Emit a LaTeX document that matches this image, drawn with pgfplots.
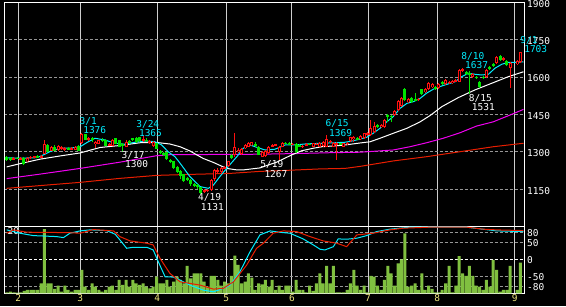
\documentclass[border=0pt]{standalone}
\usepackage{pgfplots}
\pgfplotsset{compat=1.18}
\usepackage{pgfplotstable}
\usepackage{fontspec}
\newfontfamily\chartfont{DejaVu Sans Mono}
\newcommand\cf{\chartfont\fontsize{9.5}{10}\selectfont}
\definecolor{cUp}{RGB}{255,16,16}
\definecolor{cDn}{RGB}{0,228,0}
\definecolor{cVol}{RGB}{128,192,64}
\definecolor{cCy}{RGB}{0,238,255}
\definecolor{cMg}{RGB}{240,0,240}
\definecolor{cMaR}{RGB}{232,30,0}
\definecolor{cYel}{RGB}{240,232,128}
\definecolor{cGrid}{RGB}{150,150,150}
\definecolor{cVgrid}{RGB}{205,205,205}

% rising candles: day index, open, high, low, close
\pgfplotstableread{
i o h l c
2 1270 1279 1268 1276
4 1270 1280 1268 1277
6 1262 1279 1258 1277
7 1276 1284 1272 1281
8 1278 1285 1275 1282
10 1278 1288 1276 1285
11 1293 1348 1290 1331
13 1305 1322 1302 1318
15 1307 1328 1304 1325
16 1312 1322 1308 1318
17 1307 1318 1304 1315
19 1310 1320 1307 1316
20 1309 1322 1306 1319
22 1335 1376 1333 1372
24 1350 1360 1346 1357
26 1330 1345 1315 1342
27 1332 1350 1330 1348
30 1326 1336 1322 1332
31 1325 1352 1323 1348
35 1320 1348 1318 1342
40 1345 1365 1342 1352
42 1338 1348 1330 1345
43 1322 1345 1318 1342
58 1140 1150 1135 1146
59 1144 1152 1138 1149
60 1146 1190 1142 1188
61 1190 1233 1185 1228
62 1222 1235 1215 1229
63 1218 1240 1212 1236
64 1234 1245 1230 1240
65 1242 1265 1238 1262
67 1288 1375 1280 1321
68 1298 1315 1295 1308
69 1292 1315 1288 1312
70 1314 1332 1310 1328
71 1321 1340 1318 1336
72 1326 1342 1322 1340
75 1281 1305 1278 1301
76 1284 1308 1280 1305
77 1295 1324 1292 1321
78 1322 1330 1318 1328
79 1326 1334 1322 1331
80 1301 1324 1267 1321
81 1321 1340 1318 1337
84 1330 1336 1326 1333
87 1320 1328 1316 1325
88 1326 1336 1324 1332
90 1321 1338 1318 1335
91 1330 1336 1326 1333
92 1321 1340 1318 1337
93 1323 1344 1320 1341
94 1321 1369 1318 1351
95 1340 1350 1335 1346
96 1321 1340 1318 1337
97 1328 1340 1268 1336
99 1321 1338 1318 1335
100 1332 1342 1328 1338
101 1345 1362 1342 1359
102 1351 1364 1341 1362
104 1351 1367 1348 1364
105 1355 1378 1352 1375
106 1370 1382 1366 1378
107 1368 1428 1365 1395
108 1381 1422 1378 1404
110 1399 1412 1396 1408
111 1401 1432 1398 1428
114 1448 1470 1445 1466
115 1468 1510 1465 1506
116 1485 1520 1482 1515
118 1499 1515 1495 1511
121 1508 1518 1504 1514
123 1542 1556 1538 1551
124 1551 1580 1548 1576
125 1561 1575 1558 1572
127 1556 1576 1552 1572
129 1572 1592 1568 1589
130 1576 1586 1572 1582
131 1576 1588 1572 1585
132 1583 1594 1580 1590
133 1582 1632 1580 1630
134 1626 1637 1620 1632
137 1602 1616 1598 1612
141 1602 1632 1598 1629
144 1656 1686 1652 1682
146 1669 1680 1664 1676
148 1636 1660 1556 1656
150 1653 1668 1648 1665
151 1661 1703 1657 1700
}\upC

% falling candles
\pgfplotstableread{
i o h l c
0 1280 1284 1265 1268
1 1277 1280 1263 1267
3 1276 1280 1270 1272
5 1277 1281 1248 1251
9 1282 1286 1276 1278
12 1328 1332 1298 1301
14 1321 1326 1302 1305
18 1315 1318 1306 1309
21 1325 1328 1302 1305
23 1372 1374 1348 1350
25 1356 1360 1340 1348
28 1350 1355 1340 1343
29 1348 1352 1322 1325
32 1355 1358 1330 1332
33 1348 1350 1318 1320
34 1330 1335 1300 1324
36 1345 1350 1332 1335
37 1355 1358 1345 1348
38 1357 1360 1338 1340
39 1360 1362 1340 1344
41 1350 1355 1340 1343
44 1335 1338 1310 1312
45 1305 1308 1292 1295
46 1297 1300 1285 1288
47 1298 1300 1268 1270
48 1268 1272 1255 1258
49 1262 1265 1230 1234
50 1240 1244 1215 1218
51 1225 1228 1190 1205
52 1210 1212 1180 1185
53 1195 1198 1182 1188
54 1188 1190 1165 1170
55 1172 1175 1160 1165
56 1168 1170 1150 1158
57 1158 1160 1131 1136
66 1288 1292 1270 1275
73 1332 1340 1320 1324
74 1321 1325 1286 1288
82 1338 1342 1330 1333
83 1336 1340 1326 1330
85 1332 1335 1296 1300
86 1327 1330 1318 1321
89 1332 1335 1326 1329
98 1334 1338 1328 1331
103 1356 1360 1348 1351
109 1408 1412 1396 1399
112 1448 1452 1421 1441
113 1446 1450 1421 1440
117 1551 1556 1505 1509
119 1515 1520 1498 1502
120 1511 1535 1503 1506
122 1551 1554 1530 1533
126 1562 1566 1550 1553
128 1582 1585 1568 1572
135 1622 1625 1608 1612
136 1618 1625 1531 1609
138 1602 1606 1592 1596
139 1580 1584 1558 1562
140 1602 1606 1592 1596
142 1642 1646 1630 1633
143 1652 1656 1642 1645
145 1685 1690 1665 1669
147 1667 1670 1645 1649
}\dnC

% volume
\pgfplotstableread{
i v
0 3
1 5
2 3
3 2
4 3
5 7
6 10
7 10
8 10
9 10
10 30
11 193
12 30
13 30
14 13
15 23
16 5
17 23
18 10
19 5
20 10
21 10
22 70
23 20
24 10
25 30
26 20
27 10
28 5
29 10
30 20
31 23
32 10
33 40
34 25
35 40
36 20
37 40
38 30
39 25
40 30
41 20
42 15
43 20
44 50
45 30
46 30
47 40
48 20
49 35
50 50
51 40
52 30
53 82
54 45
55 60
56 60
57 60
58 35
59 20
60 52
61 52
62 40
63 23
64 35
65 30
66 52
67 113
68 85
69 30
70 35
71 60
72 47
73 10
74 30
75 27
76 40
77 20
78 40
79 10
80 23
81 10
82 23
83 23
84 5
85 40
86 10
87 10
88 3
89 23
90 7
91 30
92 60
93 30
94 82
95 30
96 82
97 3
98 3
99 3
100 10
101 30
102 70
103 23
104 10
105 23
106 3
107 52
108 50
109 23
110 10
111 40
112 82
113 60
114 23
115 90
116 102
117 180
118 20
119 23
120 30
121 10
122 60
123 10
124 23
125 13
126 3
127 3
128 10
129 30
130 82
131 3
132 23
133 112
134 60
135 52
136 82
137 52
138 23
139 20
140 10
141 40
142 20
143 100
144 70
145 5
146 10
147 10
148 82
150 10
151 92
}\vol

% short moving average (cyan)
\pgfplotstableread{
i p
-0.6 1277
3.8 1275
8.7 1277
10.2 1285
12.6 1301
15.6 1315
18.5 1315
21.5 1321
23.9 1341
25.9 1355
28.8 1348
31.8 1335
34.7 1331
37.6 1339
40.6 1344
43.5 1341
45.5 1328
47.4 1301
49.4 1281
50.9 1255
53.8 1201
56.8 1161
59.2 1154
60.7 1167
62.6 1201
64.6 1234
67.6 1281
69.5 1315
71.5 1328
73.4 1319
75.9 1308
78.8 1311
81.8 1328
84.7 1328
87.6 1332
92.6 1335
96.5 1337
99.4 1339
101.9 1345
105.8 1359
107.7 1375
109.7 1395
111.7 1421
113.6 1442
115.6 1475
117.6 1495
119.5 1502
121.5 1515
123.4 1536
125.9 1556
128.8 1569
131.8 1582
133.7 1602
135.7 1616
137.6 1612
139.6 1609
141.6 1612
143.5 1636
145.5 1652
147.4 1660
149.4 1660
151.9 1662
}\maS

% medium moving average (white)
\pgfplotstableread{
i p
-0.1 1240
3.8 1253
9.7 1271
15.6 1284
21.5 1296
24.4 1307
27.4 1318
33.2 1326
39.1 1337
44.1 1338
47.9 1332
50.9 1321
53.8 1304
57.7 1274
60.7 1258
64.6 1234
67.6 1228
69.5 1228
74.4 1236
76.9 1248
79.3 1259
83.7 1288
86.7 1305
90.1 1315
92.6 1321
97.0 1325
99.4 1328
103.8 1336
106.8 1341
109.7 1355
113.6 1375
117.6 1395
121.5 1421
124.4 1446
127.9 1482
132.7 1518
137.6 1549
142.6 1576
147.4 1602
151.9 1622
}\maM

% long moving average (magenta)
\pgfplotstableread{
i p
-0.1 1193
9.7 1211
21.5 1234
33.2 1259
44.0 1285
47.9 1289
74.4 1291
86.2 1294
95.0 1297
103.8 1299
113.6 1308
118.5 1321
123.4 1337
128.3 1355
133.2 1377
138.1 1404
143.0 1421
147.9 1448
151.9 1471
}\maL

% very long moving average (red)
\pgfplotstableread{
i p
-0.1 1154
9.7 1165
21.5 1178
33.2 1194
44.0 1206
53.8 1210
65.6 1214
74.4 1222
80.3 1225
92.1 1232
99.4 1234
103.8 1242
113.6 1264
123.4 1281
133.2 1301
143.0 1321
151.9 1335
}\maX

% oscillator, cyan line
\pgfplotstableread{
i v
-0.1 88.3
3.8 78.4
7.7 71.3
14.6 68.3
16.6 65.3
18.5 78.4
21.5 85.3
24.4 88.3
29.3 86.2
31.8 75.4
33.2 58.4
35.2 33.5
37.1 36.5
41.1 36.5
43.0 28.4
44.5 -6.6
46.5 -51.5
48.9 -52.4
50.9 -61.4
53.8 -76.3
57.7 -91.3
60.7 -96.4
63.6 -86.2
65.6 -76.3
68.5 -36.5
71.5 23.4
74.4 73.4
77.4 85.3
80.3 81
83.2 78.4
87.1 61.4
90.1 43.4
92.1 30.5
93.5 28.4
96.0 38.3
97.4 61.4
99.9 60.5
102.9 63.5
105.8 71.3
108.7 83.2
112.6 90.4
118.5 96.4
124.4 96.4
135.2 96.4
139.1 91.3
144.0 85.3
151.9 83.2
}\oscA

% oscillator, red line
\pgfplotstableread{
i v
-0.1 78.4
1.9 88.3
5.8 81.4
17.6 80.2
21.5 78.4
25.4 89.2
31.3 85.3
33.2 68.3
36.2 55.4
41.1 48.5
43.0 43.4
45.0 3.6
47.9 -41.3
50.9 -66.5
56.8 -76.3
60.7 -88.3
63.6 -86.2
66.6 -66.5
70.5 -16.5
73.4 33.5
75.4 48.5
78.3 78.4
81.3 85.3
85.2 83.2
89.1 68.3
93.0 55.4
97.0 48.5
99.9 38.3
102.9 73.4
107.7 78.4
112.6 88.3
116.6 93.4
124.4 96.4
135.2 96.4
140.1 90.4
144.0 88.3
151.9 86.2
}\oscB

\pgfplotsset{
  monthticks/.style={xtick={3.32,21.56,44.21,64.5,83.82,106.18,126.56,149.32}},
  panel/.style={scale only axis, width=520pt,
    xmin=-0.735, xmax=152.2,
    /pgf/number format/assume math mode=true},
  % a vertical bar from a table row: y = centre, error = half length
  candle/.style 2 args={only marks, mark=*, mark size=0pt,
    mark options={draw=none, fill=none, draw opacity=0, fill opacity=0},
    forget plot, line width=#1, color=#2,
    error bars/.cd, y dir=both, y explicit, error mark=none,
    error bar style={line width=#1, color=#2, solid, line cap=butt,
      draw opacity=1, fill opacity=1}},
}

\begin{document}
\begin{tikzpicture}
\useasboundingbox (0pt,0pt) rectangle (566pt,306pt);
\fill[black] (0pt,0pt) rectangle (566pt,306pt);

% ---------- price panel ----------
\begin{axis}[panel, name=main, at={(4.5pt,79.3pt)}, anchor=south west, height=224.2pt,
  ymin=1000, ymax=1900,
  axis line style={draw=white, line width=1pt},
  monthticks, xticklabels={},
  ytick={1150,1300,1450,1600,1750}, yticklabels={1150,1300,1450,1600,1750},
  extra y ticks={1900}, extra y tick labels={1900},
  extra y tick style={major grid style={draw=none}},
  yticklabel pos=right,
  xmajorgrids, ymajorgrids,
  major x grid style={cVgrid, line width=1pt, solid},
  major y grid style={cGrid, line width=1pt, dash pattern=on 3pt off 2pt},
  tick style={draw=none},
  yticklabel style={font=\cf, text=white, anchor=west, inner sep=0pt, xshift=2.5pt, yshift=-1.3pt},
  clip mode=individual,
]
\addplot[cMaR, line width=1pt] table[x=i,y=p]{\maX};
\addplot[cMg, line width=1pt] table[x=i,y=p]{\maL};
\addplot[white, line width=1pt] table[x=i,y=p]{\maM};
\addplot[cCy, line width=1pt] table[x=i,y=p]{\maS};
% wicks
\addplot[candle={1pt}{cDn}]
  table[x=i, y expr={(\thisrow{h}+\thisrow{l})/2}, y error expr={(\thisrow{h}-\thisrow{l})/2}]{\dnC};
\addplot[candle={1pt}{cUp}]
  table[x=i, y expr={(\thisrow{h}+\thisrow{l})/2}, y error expr={(\thisrow{h}-\thisrow{l})/2}]{\upC};
% bodies
\addplot[candle={3pt}{cDn}]
  table[x=i, y expr={(\thisrow{o}+\thisrow{c})/2}, y error expr={max((\thisrow{o}-\thisrow{c})/2,2)}]{\dnC};
\addplot[candle={3pt}{cUp}]
  table[x=i, y expr={(\thisrow{o}+\thisrow{c})/2}, y error expr={max((\thisrow{c}-\thisrow{o})/2,2)}]{\upC};
\addplot[candle={1pt}{black}]
  table[x=i, y expr={(\thisrow{o}+\thisrow{c})/2}, y error expr={max((\thisrow{c}-\thisrow{o})/2-4,0)}]{\upC};
% high / low annotations
\node[font=\cf, text=cCy] at (axis cs:23.9,1424) {3/1};
\node[font=\cf, text=cCy] at (axis cs:25.8,1387) {1376};
\node[font=\cf, text=cCy] at (axis cs:41.4,1409) {3/24};
\node[font=\cf, text=cCy] at (axis cs:42.2,1375) {1365};
\node[font=\cf, text=white] at (axis cs:37.1,1286) {3/17};
\node[font=\cf, text=white] at (axis cs:38.1,1251) {1300};
\node[font=\cf, text=white] at (axis cs:59.6,1117) {4/19};
\node[font=\cf, text=white] at (axis cs:60.4,1080) {1131};
\node[font=\cf, text=white] at (axis cs:77.9,1249) {5/19};
\node[font=\cf, text=white] at (axis cs:79.1,1212) {1267};
\node[font=\cf, text=cCy] at (axis cs:97.1,1413) {6/15};
\node[font=\cf, text=cCy] at (axis cs:98.1,1376) {1369};
\node[font=\cf, text=cCy] at (axis cs:137.0,1684) {8/10};
\node[font=\cf, text=cCy] at (axis cs:138.1,1647) {1637};
\node[font=\cf, text=white] at (axis cs:139.2,1514) {8/15};
\node[font=\cf, text=white] at (axis cs:140.1,1479) {1531};
\node[font=\cf, text=cCy] at (axis cs:153.5,1748) {9/1};
\node[font=\cf, text=cCy] at (axis cs:155.5,1712) {1703};
\end{axis}

% ---------- lower panel: frame and grid ----------
\begin{axis}[panel, name=low, at={(main.south west)}, anchor=north west, height=66.6pt,
  ymin=-100.8, ymax=97.8,
  axis line style={draw=white, line width=1pt},
  monthticks, xticklabels={2,3,4,5,6,7,8,9},
  ytick={-80,-50,0,50,80}, yticklabels={-80,-50,0,50,80},
  yticklabel pos=right,
  xmajorgrids, ymajorgrids,
  major x grid style={cVgrid, line width=1pt, solid},
  major y grid style={cGrid, line width=1pt, dash pattern=on 3pt off 2pt},
  tick style={draw=none},
  xticklabel style={font=\cf, text=cYel, anchor=north, inner sep=0pt, yshift=-1.2pt},
  yticklabel style={font=\cf, text=white, anchor=west, inner sep=0pt, xshift=2.5pt, yshift=-0.8pt},
  clip mode=individual,
]
\addplot[white, line width=1pt, dash pattern=on 3pt off 2pt] coordinates {(-0.735,0) (152.2,0)};
\node[font=\cf, text=white] at (axis cs:1.9,84) {20};
\end{axis}

% ---------- volume ----------
\begin{axis}[panel, at={(main.south west)}, anchor=north west, height=66.6pt, hide axis,
  ymin=0, ymax=200]
\addplot[ybar, bar width=3pt, bar shift=0pt, fill=cVol, draw=none] table[x=i,y=v]{\vol};
\end{axis}

% ---------- oscillator ----------
\begin{axis}[panel, at={(main.south west)}, anchor=north west, height=66.6pt, hide axis,
  ymin=-100.8, ymax=97.8]
\addplot[cCy, line width=1pt] table[x=i,y=v]{\oscA};
\addplot[cMaR, line width=1pt] table[x=i,y=v]{\oscB};
\end{axis}
\end{tikzpicture}
\end{document}
